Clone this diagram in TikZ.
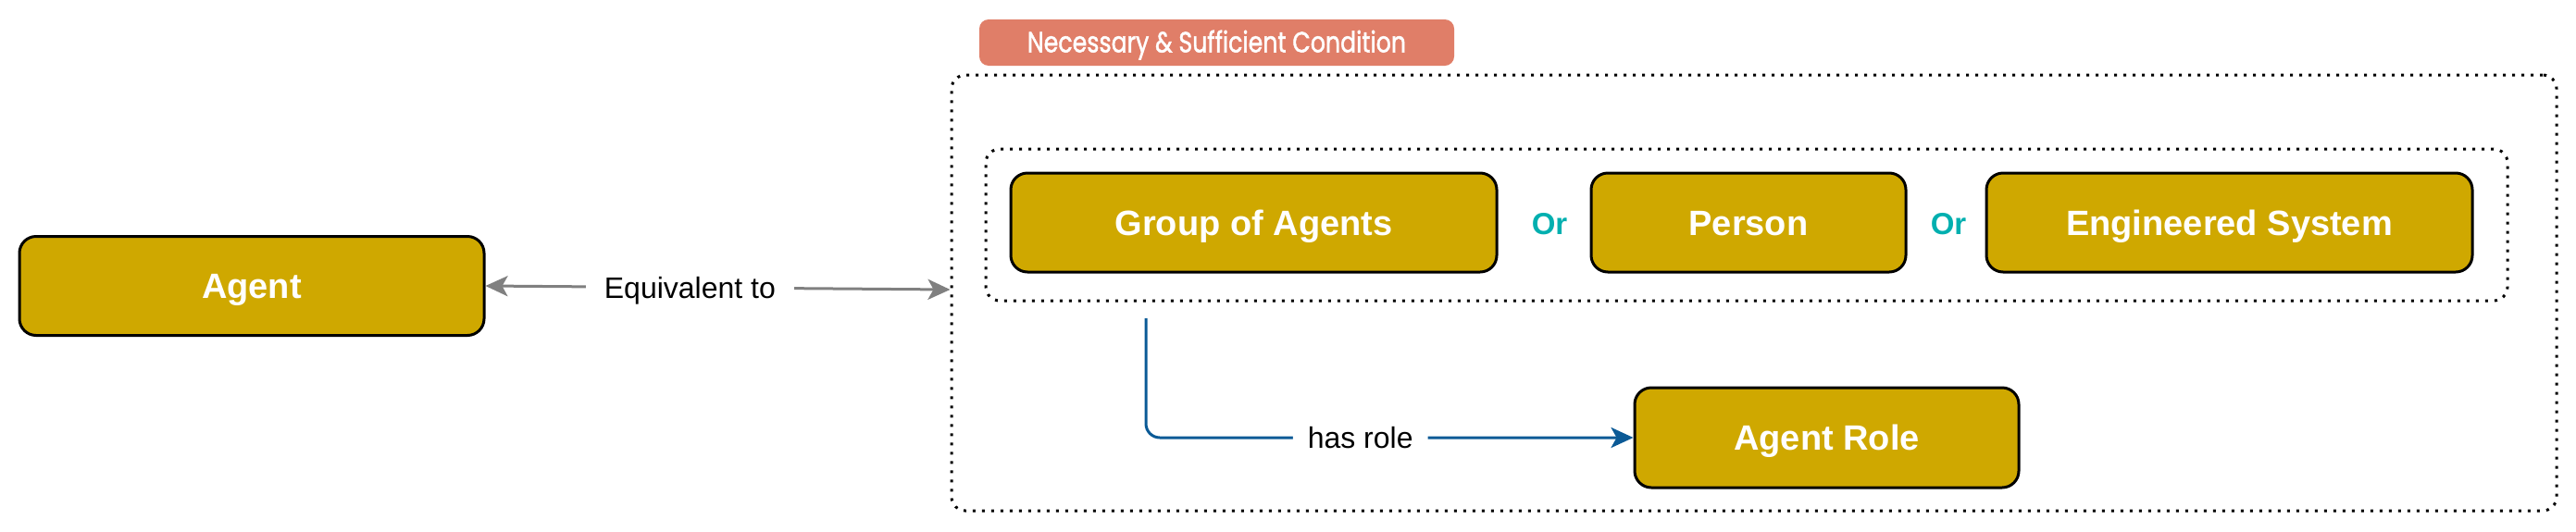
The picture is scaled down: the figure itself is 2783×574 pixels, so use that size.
\documentclass[tikz,border=0pt]{standalone}
\usepackage{fontspec}
\setmainfont{Liberation Sans}
\newfontfamily\labelfont[FakeBold=1.6]{Poppins}
\usetikzlibrary{arrows.meta}
\definecolor{gold}{HTML}{CFA800}
\definecolor{labelred}{HTML}{E07E68}
\definecolor{orteal}{HTML}{00AFAF}
\definecolor{relblue}{HTML}{0B5A96}
\definecolor{eqgray}{HTML}{808080}
\begin{document}
\begin{tikzpicture}[x=1pt,y=-1pt,
  box/.style={draw=black, line width=3pt, fill=gold, rounded corners=18pt,
    minimum height=107pt, inner sep=0pt, text=white, text height=27pt, text depth=0pt,
    font=\fontsize{38}{40}\selectfont\bfseries},
  dotbox/.style={draw=black, line width=3pt, dash pattern=on 3pt off 7pt,
    rounded corners=15pt, inner sep=0pt},
  ortext/.style={text=orteal, inner sep=0pt, text height=23.5pt, text depth=0pt,
    font=\fontsize{33}{35}\selectfont\bfseries},
  edgelabel/.style={fill=white, text=black, inner xsep=20pt, inner ysep=8pt,
    text height=23pt, text depth=0pt, font=\fontsize{32}{34}\selectfont},
  eqarrow/.style={draw=eqgray, line width=3pt,
    {Stealth[length=24pt,width=22pt,inset=6pt]}-{Stealth[length=24pt,width=22pt,inset=6pt]}},
  relarrow/.style={draw=relblue, line width=3pt, rounded corners=15pt,
    -{Stealth[length=24pt,width=22pt,inset=6pt]}}
]
\useasboundingbox (0,0) rectangle (2783,574);

% condition label
\node[fill=labelred, rounded corners=10pt, minimum width=513pt, minimum height=50pt,
  inner sep=0pt, text=white, text height=21pt, text depth=0pt,
  font=\labelfont\fontsize{26}{28}\selectfont]
  (cond) at (1314.5,46) {\scalebox{0.97}[1.2]{Necessary \& Sufficient Condition}};

% dotted groups
\node[dotbox, minimum width=1734pt, minimum height=471pt] (outer) at (1895,316.5) {};
\node[dotbox, minimum width=1644pt, minimum height=164pt] (inner) at (1887,243) {};

% boxes
\node[box, minimum width=502pt] (agent) at (272,309) {Agent};
\node[box, minimum width=525pt] (group) at (1354.5,240.5) {Group of Agents};
\node[box, minimum width=340pt] (person) at (1889,240.5) {Person};
\node[box, minimum width=525pt] (eng) at (2408.5,240.5) {Engineered System};
\node[box, minimum width=415pt, minimum height=108pt] (role) at (1973.5,473) {Agent Role};

\node[ortext] (or1) at (1674,242) {Or};
\node[ortext] (or2) at (2105,242) {Or};

% connectors
\path (outer.west) ++(0,-3.5) coordinate (eqend);
\draw[eqarrow] (agent.east) -- (eqend)
  node[edgelabel, pos=0.44] (eqlab) {Equivalent to};

\coordinate (hs) at (1238,344);
\draw[relarrow] (hs) |- (role.west)
  node[edgelabel, pos=0.72, inner xsep=16pt] (rolelab) {has role};
\end{tikzpicture}
\end{document}
